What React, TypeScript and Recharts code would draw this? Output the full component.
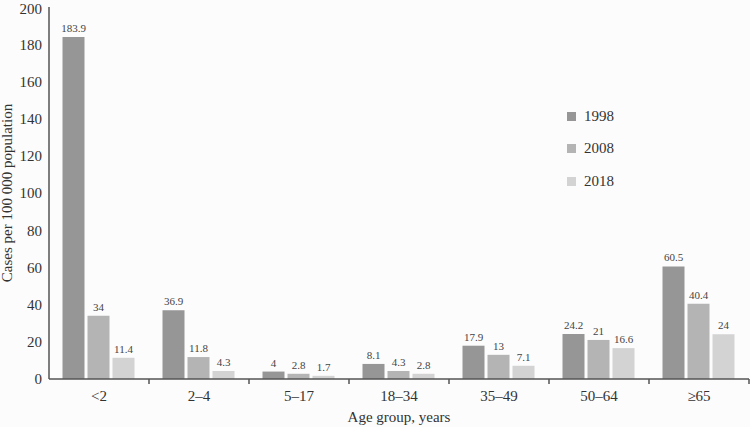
import React from 'react';
import { BarChart, Bar, XAxis, YAxis, LabelList } from 'recharts';

const categories = ['<2', '2–4', '5–17', '18–34', '35–49', '50–64', '≥65'];
const v1998 = [183.9, 36.9, 4, 8.1, 17.9, 24.2, 60.5];
const v2008 = [34, 11.8, 2.8, 4.3, 13, 21, 40.4];
const v2018 = [11.4, 4.3, 1.7, 2.8, 7.1, 16.6, 24];
const yTicks = [0, 20, 40, 60, 80, 100, 120, 140, 160, 180, 200];
const seriesNames = ['1998', '2008', '2018'];
const colors = ['#969696', '#b4b4b4', '#d3d3d3'];

const data = categories.map((c, i) => ({ cat: c, y1998: v1998[i], y2008: v2008[i], y2018: v2018[i] }));

const FONT = '"Liberation Serif", "Times New Roman", serif';
const AXIS = '#555';

const XTick = (props: any) => {
  const { x, y, payload } = props;
  const half = 50;
  return (
    <g>
      <text x={x} y={y + 14} textAnchor="middle" fontFamily={FONT} fontSize={15} fill="#333">{payload.value}</text>
      <line x1={x + half} x2={x + half} y1={y - 8} y2={y - 3} stroke={AXIS} strokeWidth={1.5} />
    </g>
  );
};

const YLabel = () => (
  <text transform="translate(12,193) rotate(-90)" textAnchor="middle" fontFamily={FONT} fontSize={15} fill="#333">
    Cases per 100 000 population
  </text>
);

export default function App() {
  return (
    <div style={{ position: 'absolute', left: 0, top: 0, width: 750, height: 427, background: '#fcfcfc' }}>
      <BarChart width={750} height={427} data={data} margin={{ top: 7, right: 1, left: 0, bottom: 0 }}
        barCategoryGap="13.5%" barGap={3}>
        <XAxis dataKey="cat" height={48} tickLine={false} axisLine={{ stroke: AXIS, strokeWidth: 1.5 }}
          tick={<XTick />} interval={0}
          label={{ value: 'Age group, years', position: 'insideBottom', offset: 5, fontFamily: FONT, fontSize: 15, fill: '#333' }} />
        <YAxis width={49} domain={[0, 200]} ticks={yTicks} tickLine={false} axisLine={{ stroke: AXIS, strokeWidth: 1.5 }}
          tick={{ fontFamily: FONT, fontSize: 15, fill: '#333' }} tickMargin={1}
          label={<YLabel />} />
        {['y1998', 'y2008', 'y2018'].map((k, i) => (
          <Bar key={k} dataKey={k} name={seriesNames[i]} fill={colors[i]} isAnimationActive={false}>
            <LabelList dataKey={k} position="top" offset={5} style={{ fontFamily: FONT, fontSize: 11, fill: '#444' }} />
          </Bar>
        ))}
      </BarChart>
      <div style={{ position: 'absolute', left: 567, top: 100, fontFamily: FONT, fontSize: 15, color: '#333' }}>
        {seriesNames.map((n, i) => (
          <div key={n} style={{ display: 'flex', alignItems: 'center', height: 32.5 }}>
            <span style={{ display: 'inline-block', width: 9, height: 9, background: colors[i], marginRight: 8 }} />
            <span>{n}</span>
          </div>
        ))}
      </div>
    </div>
  );
}
